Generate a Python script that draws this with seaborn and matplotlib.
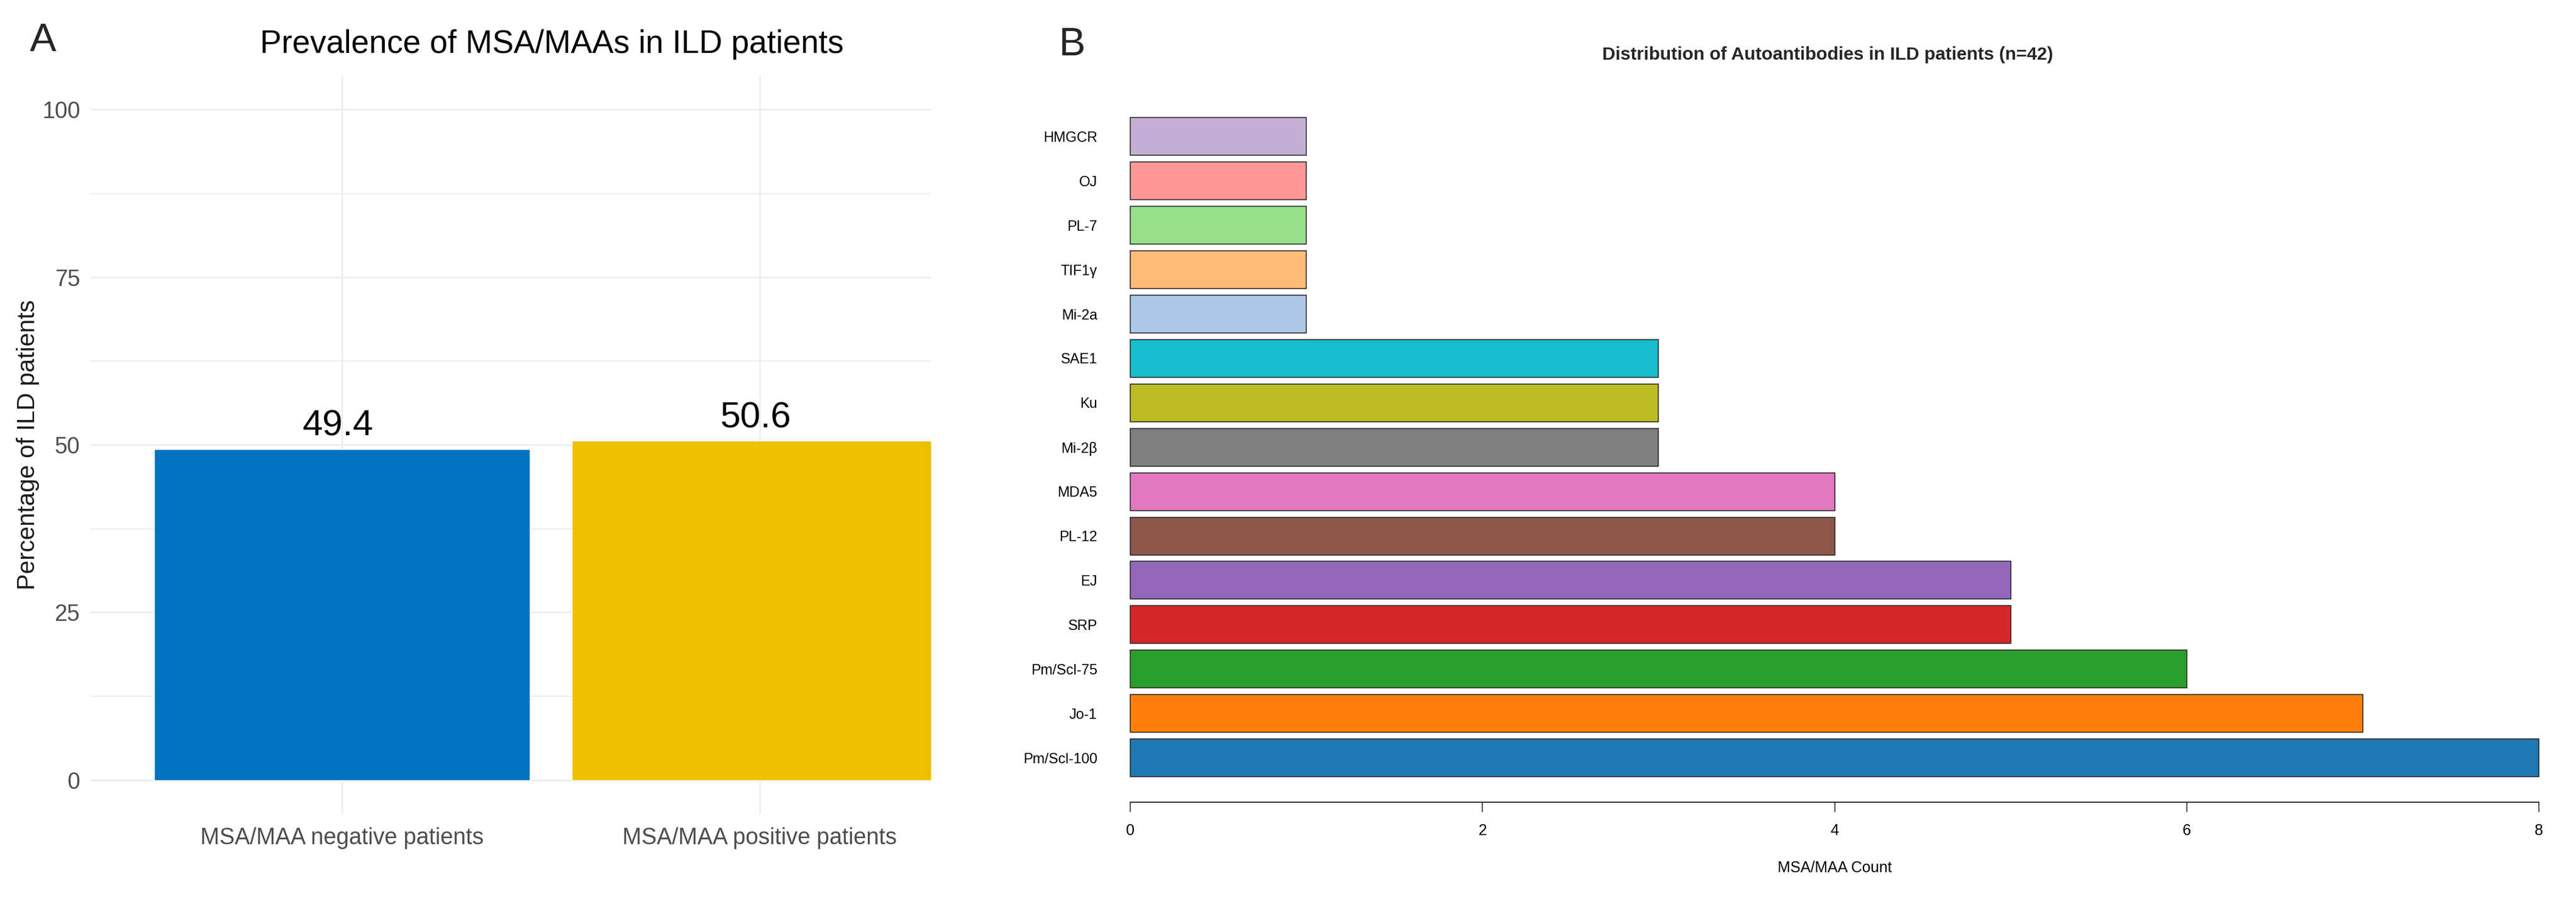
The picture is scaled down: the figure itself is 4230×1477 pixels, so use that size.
import matplotlib
matplotlib.use("Agg")
import matplotlib.pyplot as plt
import seaborn as sns
import pandas as pd

# ---------------- data ----------------
groups = ["MSA/MAA negative patients", "MSA/MAA positive patients"]
percentages = [49.4, 50.6]
group_colors = ["#0073C2", "#EFC000"]
left_yticks = [0, 25, 50, 75, 100]

antibodies = ["HMGCR", "OJ", "PL-7", "TIF1γ", "Mi-2a", "SAE1", "Ku", "Mi-2β",
              "MDA5", "PL-12", "EJ", "SRP", "Pm/Scl-75", "Jo-1", "Pm/Scl-100"]
counts = [1, 1, 1, 1, 1, 3, 3, 3, 4, 4, 5, 5, 6, 7, 8]
antibody_colors = ["#c5b0d5", "#ff9896", "#98df8a", "#ffbb78", "#aec7e8",
                   "#17becf", "#bcbd22", "#7f7f7f", "#e377c2", "#8c564b",
                   "#9467bd", "#d62728", "#2ca02c", "#ff7f0e", "#1f77b4"]
right_xticks = [0, 2, 4, 6, 8]

# ---------------- style ----------------
sns.set_style("white")
plt.rcParams["font.family"] = ["Liberation Sans", "DejaVu Sans"]

W, H = 4230, 1477
fig = plt.figure(figsize=(W / 100, H / 100), dpi=100)

# ---------------- panel A ----------------
ax1 = fig.add_axes([148 / W, 1 - 1337 / H, (1529 - 148) / W, (1337 - 125) / H])
df1 = pd.DataFrame({"group": groups, "pct": percentages})
sns.barplot(data=df1, x="group", y="pct", hue="group",
            palette=dict(zip(groups, group_colors)), width=0.9,
            saturation=1, legend=False, ax=ax1, zorder=2)
ax1.set_xlim(-0.603, 1.41)
ax1.set_ylim(-5, 105)
ax1.set_yticks(left_yticks)
ax1.set_yticks([12.5, 37.5, 62.5, 87.5], minor=True)
ax1.set_axisbelow(True)
ax1.grid(which="major", color="#EBEBEB", lw=1.7)
ax1.grid(which="minor", axis="y", color="#EBEBEB", lw=1.2)
for s in ax1.spines.values():
    s.set_visible(False)
ax1.tick_params(axis="both", which="both", length=0, labelsize=27,
                labelcolor="#4D4D4D")
ax1.tick_params(axis="y", pad=12)
ax1.tick_params(axis="x", pad=16)
ax1.set_xlabel("")
ax1.set_ylabel("")
for i, v in enumerate(percentages):
    ax1.text(i - 0.01, v + 2.0, f"{v:.1f}", ha="center", va="baseline",
             fontsize=43, color="black")

fig.text(46 / W, 1 - 731 / H, "Percentage of ILD patients", rotation=90,
         ha="center", va="center", fontsize=29, color="#1A1A1A")
fig.text(906 / W, 1 - 73 / H, "Prevalence of MSA/MAAs in ILD patients",
         ha="center", va="center", fontsize=38, color="black")
fig.text(71 / W, 1 - 67 / H, "A", ha="center", va="center", fontsize=47)

# ---------------- panel B ----------------
ax2 = fig.add_axes([1856 / W, 1 - 1318 / H, (4169 - 1856) / W, (1318 - 150) / H])
df2 = pd.DataFrame({"antibody": antibodies, "count": counts})
sns.barplot(data=df2, x="count", y="antibody", hue="antibody", order=antibodies,
            palette=dict(zip(antibodies, antibody_colors)), width=0.85,
            orient="h", saturation=1, legend=False, edgecolor="#222222",
            linewidth=1.1, ax=ax2)
for p in ax2.patches:
    p.set_clip_on(False)
ax2.set_xlim(0, 8)
ax2.set_ylim(15.0, -1.02)
ax2.set_xticks(right_xticks)
for side in ["top", "right", "left"]:
    ax2.spines[side].set_visible(False)
ax2.spines["bottom"].set_color("#222222")
ax2.spines["bottom"].set_linewidth(1.3)
ax2.tick_params(axis="y", left=False, length=0, labelsize=17, pad=39,
                labelcolor="black")
ax2.tick_params(axis="x", bottom=True, direction="out", length=11.5, width=1.1,
                color="#222222", labelsize=18, pad=14, labelcolor="black")
ax2.set_ylabel("")
ax2.set_xlabel("MSA/MAA Count", fontsize=18, labelpad=26, color="black")

fig.text(3001 / W, 1 - 90 / H,
         "Distribution of Autoantibodies in ILD patients (n=42)",
         ha="center", va="center", fontsize=21.5, fontweight="bold")
fig.text(1760 / W, 1 - 74 / H, "B", ha="center", va="center", fontsize=47)

fig.savefig("out.png", dpi=100, facecolor="white")
